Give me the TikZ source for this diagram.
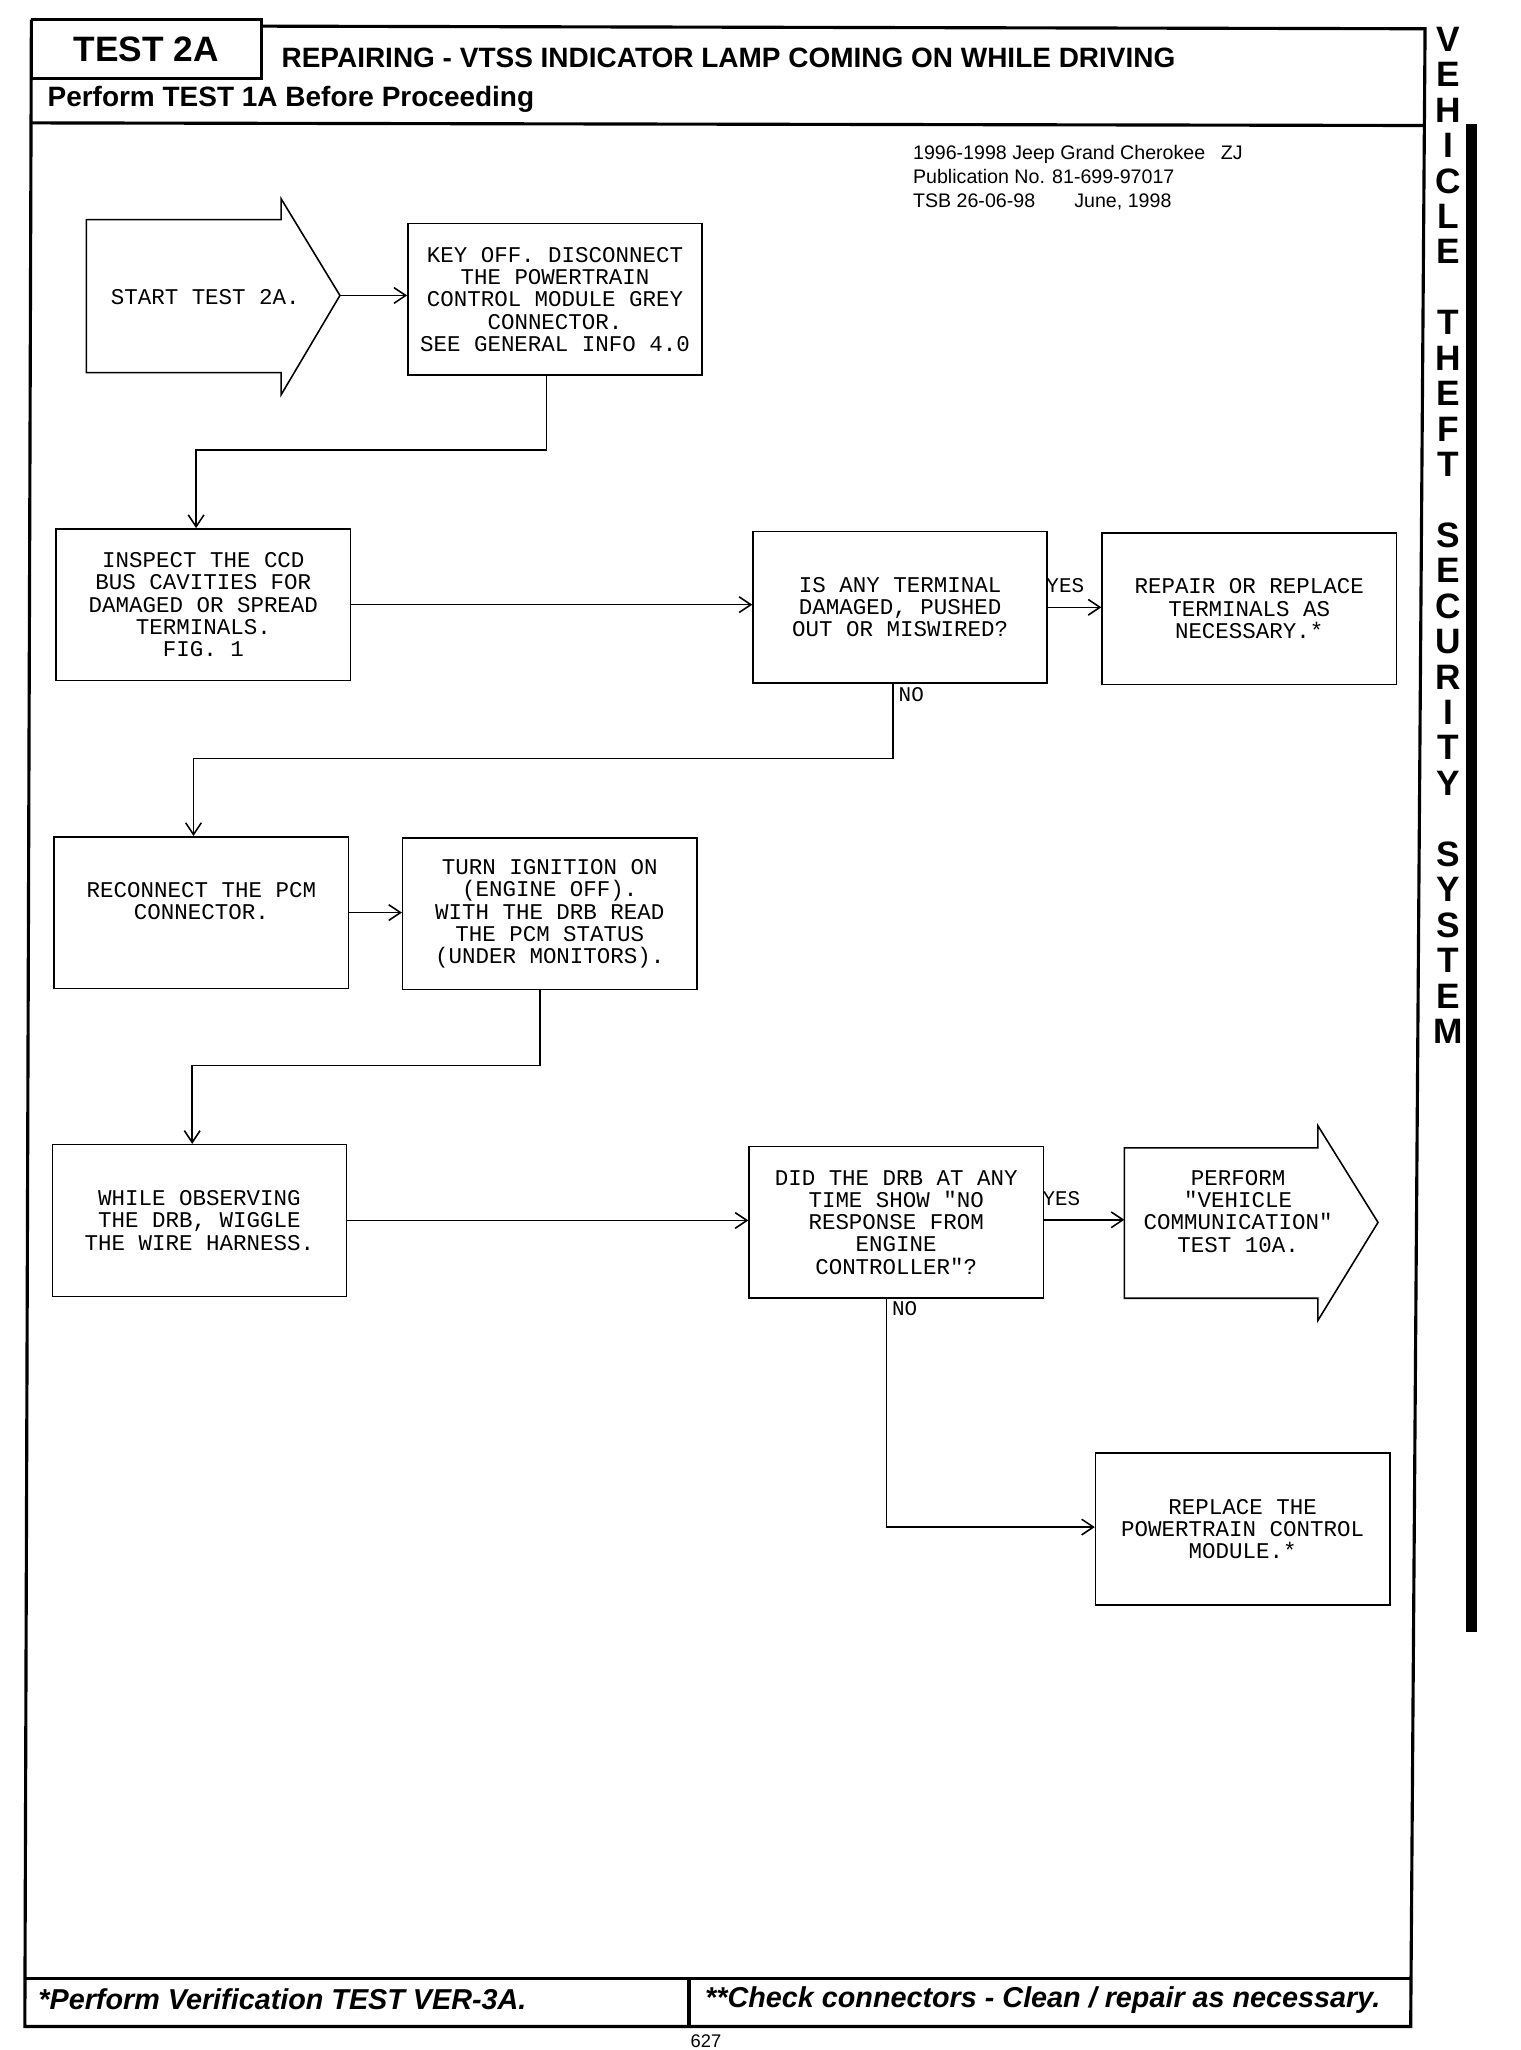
\documentclass[tikz,border=0pt]{standalone}
\usepackage{fontspec}
\setmainfont{Liberation Sans}
\newfontfamily\monofont{Liberation Mono}
\usetikzlibrary{arrows.meta}
\begin{document}
\begin{tikzpicture}[x=0.5pt,y=-0.5pt,
  box/.style={draw, line width=0.6pt, minimum width=112.5pt, minimum height=58pt, inner sep=0pt, align=center, font=\monofont\fontsize{8.6}{8.5}\selectfont},
  txt/.style={inner sep=0pt, align=center, font=\monofont\fontsize{8.6}{8.5}\selectfont},
  lbl/.style={inner sep=0pt, anchor=west, font=\monofont\fontsize{8}{8}\selectfont},
  arr/.style={line width=0.6pt, -{Straight Barb[length=4.5pt,width=6pt]}},
  wire/.style={line width=0.6pt},
  frame/.style={line width=1.2pt},
  hd/.style={inner sep=0pt, font=\bfseries\fontsize{10.7}{12}\selectfont},
  ft/.style={inner sep=0pt, anchor=west, font=\bfseries\itshape\fontsize{11}{12}\selectfont},
  side/.style={inner sep=0pt, font=\bfseries\fontsize{13.5}{14}\selectfont}
]
\useasboundingbox (0,0) rectangle (1163,1568);

% ---------- frame ----------
\draw[frame] (24,15) -- (200,15) -- (200,60) -- (24,60);
\draw[frame] (200,20) -- (1090,22) -- (1079,1550) -- (19,1550) -- (24,15);
\draw[frame] (24,94) -- (1089.5,96);
\draw[frame] (19.5,1513) -- (1079.3,1513);
\draw[frame] (527,1513) -- (527,1550);

% ---------- header ----------
\node[inner sep=0pt, font=\bfseries\fontsize{13.5}{14}\selectfont] (t2a) at (112,38) {TEST 2A};
\node[hd, anchor=west] (title) at (215,44) {REPAIRING - VTSS INDICATOR LAMP COMING ON WHILE DRIVING};
\node[hd, anchor=west] (pre) at (36,76) {Perform TEST 1A Before Proceeding};

\node[inner sep=0pt, anchor=west, align=left, font=\fontsize{7.5}{9.3}\selectfont] (notes) at (698,136)
  {1996-1998 Jeep Grand Cherokee\hspace{6pt}ZJ\\Publication No. 81-699-97017\\TSB 26-06-98\hspace{15pt}June, 1998};

% ---------- side title and bar ----------
\foreach \ch [count=\i from 0] in {V,E,H,I,C,L,E,{},T,H,E,F,T,{},S,E,C,U,R,I,T,Y,{},S,Y,S,T,E,M}
  \node[side] (v\i) at (1108,{30+27.1*\i}) {\ch};
\fill (1121,95) rectangle (1130,1248);

% ---------- footer ----------
\node[ft] (f1) at (29,1529) {*Perform Verification TEST VER-3A.};
\node[ft] (f2) at (539,1530) {**Check connectors - Clean / repair as necessary.};
\node[inner sep=0pt, anchor=base, font=\fontsize{7}{7}\selectfont] (pg) at (540,1566) {627};

% ---------- flowchart ----------
\draw[wire] (66,168) -- (215,168) -- (215,152) -- (260,226) -- (215,302) -- (215,285) -- (66,285) -- cycle;
\node[txt] (start) at (157,227) {START TEST 2A.};
\coordinate (starttip) at (260,226);

\node[box] (b1) at (424.5,229) {KEY OFF. DISCONNECT\\THE POWERTRAIN\\CONTROL MODULE GREY\\CONNECTOR.\\SEE GENERAL INFO 4.0};
\node[box] (b2) at (155.5,462.5) {INSPECT THE CCD\\BUS CAVITIES FOR\\DAMAGED OR SPREAD\\TERMINALS.\\FIG. 1};
\node[box] (b3) at (688.5,464.5) {IS ANY TERMINAL\\DAMAGED, PUSHED\\OUT OR MISWIRED?};
\node[box] (b4) at (955.5,465.5) {REPAIR OR REPLACE\\TERMINALS AS\\NECESSARY.*};
\node[box] (b5) at (154,698) {};
\node[txt] (t5) at (154,689.5) {RECONNECT THE PCM\\CONNECTOR.};
\node[box] (b6) at (420.5,699) {TURN IGNITION ON\\(ENGINE OFF).\\WITH THE DRB READ\\THE PCM STATUS\\(UNDER MONITORS).};
\node[box] (b7) at (152.5,933.5) {WHILE OBSERVING\\THE DRB, WIGGLE\\THE WIRE HARNESS.};
\node[box] (b8) at (685.5,935) {DID THE DRB AT ANY\\TIME SHOW "NO\\RESPONSE FROM\\ENGINE\\CONTROLLER"?};

\draw[wire] (860,878) -- (1008,878) -- (1008,861) -- (1054,935) -- (1008,1010) -- (1008,993) -- (860,993) -- cycle;
\node[txt] (perf) at (947,926.5) {PERFORM\\"VEHICLE\\COMMUNICATION"\\TEST 10A.};
\coordinate (perfin) at (860,933);

\node[box] (b9) at (950.5,1169.5) {REPLACE THE\\POWERTRAIN CONTROL\\MODULE.*};

% connectors
\draw[arr] (starttip) -- (starttip -| b1.west);

\coordinate (c1a) at (418,344);
\coordinate (c1b) at (150,344);
\draw[arr] (b1.south -| c1a) -- (c1a) -- (c1b) -- (c1b |- b2.north);

\draw[arr] (b2.east) -- (b2.east -| b3.west);
\draw[arr] (b3.east) -- (b3.east -| b4.west);
\node[lbl] (yes1) at (800,448) {YES};

\coordinate (c2a) at (683,580);
\coordinate (c2b) at (148,580);
\draw[arr] (b3.south -| c2a) -- (c2a) -- (c2b) -- (c2b |- b5.north);
\node[lbl] (no1) at (687,531) {NO};

\draw[arr] (b5.east) -- (b5.east -| b6.west);

\coordinate (c3a) at (413,815);
\coordinate (c3b) at (147,815);
\draw[arr] (b6.south -| c3a) -- (c3a) -- (c3b) -- (c3b |- b7.north);

\draw[arr] (b7.east) -- (b7.east -| b8.west);
\draw[arr] (b8.east |- perfin) -- (perfin);
\node[lbl] (yes2) at (797,917) {YES};

\coordinate (c4a) at (678,1168);
\draw[arr] (b8.south -| c4a) -- (c4a) -- (c4a -| b9.west);
\node[lbl] (no2) at (682,1001) {NO};

\end{tikzpicture}
\end{document}
